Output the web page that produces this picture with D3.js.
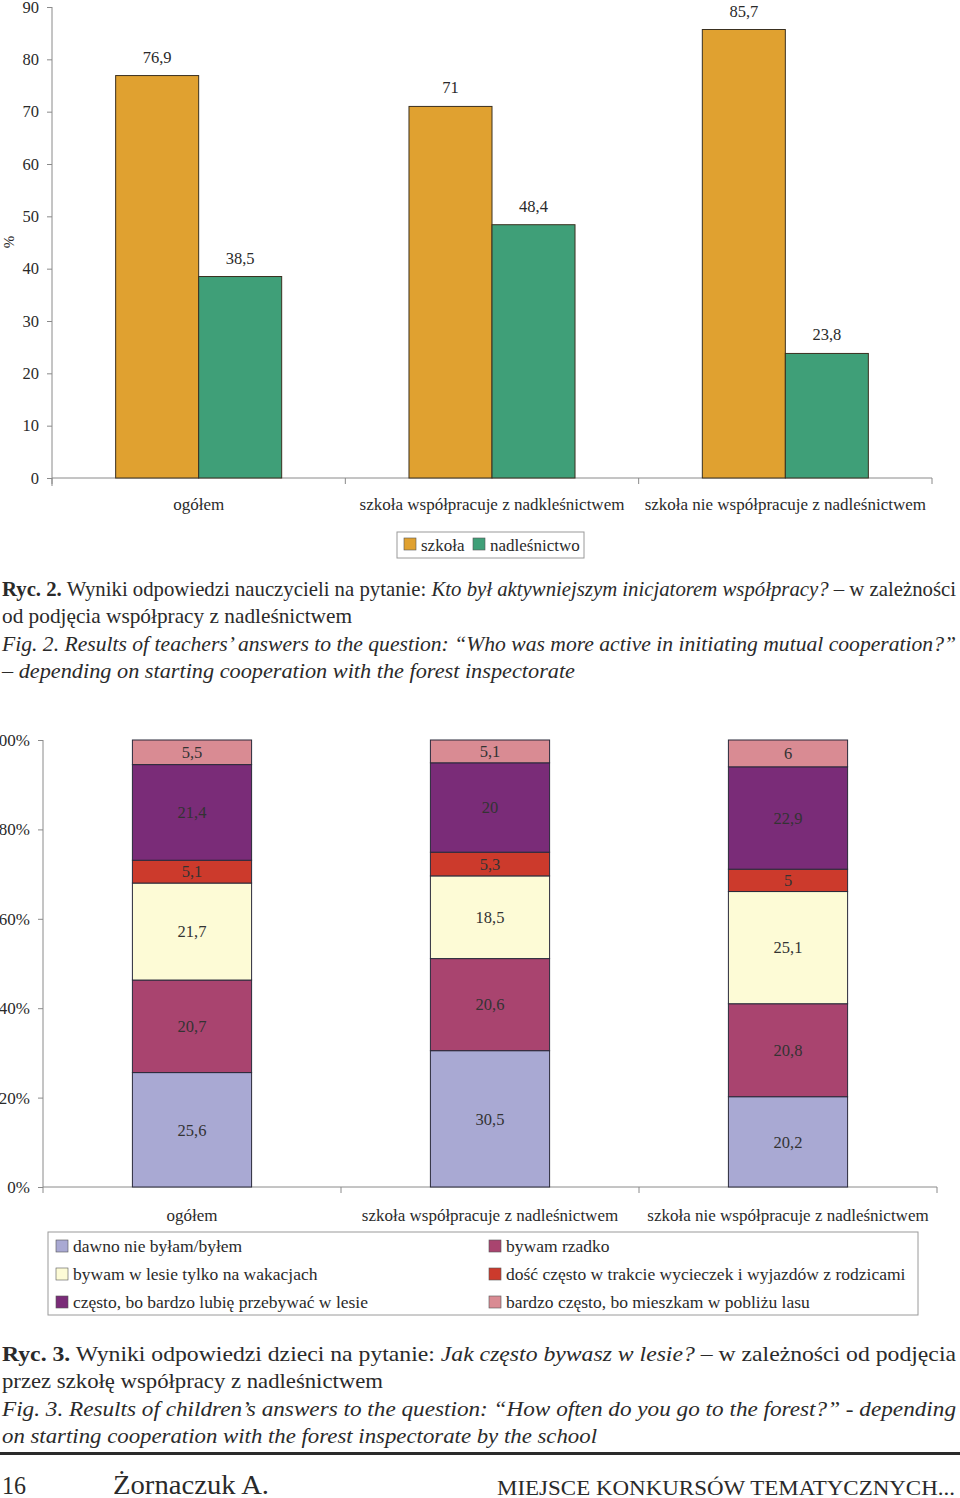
<!DOCTYPE html>
<html><head><meta charset="utf-8">
<script src="https://cdn.jsdelivr.net/npm/d3@7"></script>
<style>
body{margin:0;background:#fff;}
svg{display:block;font-family:"Liberation Serif","Times New Roman",serif;}
</style></head>
<body><svg id="c" width="960" height="1498"></svg>
<script>
// ---- Data: Fig. 2 ----
const cats1 = ["ogółem", "szkoła współpracuje z nadkleśnictwem", "szkoła nie współpracuje z nadleśnictwem"];
const series1 = ["szkoła", "nadleśnictwo"];
const szkola = [76.9, 71, 85.7];
const nadlesnictwo = [38.5, 48.4, 23.8];
const ticks1 = [0, 10, 20, 30, 40, 50, 60, 70, 80, 90];
const colors1 = ["#e0a130", "#3f9f78"];

// ---- Data: Fig. 3 ----
const cats2 = ["ogółem", "szkoła współpracuje z nadleśnictwem", "szkoła nie współpracuje z nadleśnictwem"];
const series2 = ["dawno nie byłam/byłem", "bywam rzadko", "bywam w lesie tylko na wakacjach",
  "dość często w trakcie wycieczek i wyjazdów z rodzicami", "często, bo bardzo lubię przebywać w lesie",
  "bardzo często, bo mieszkam w pobliżu lasu"];
const dawno = [25.6, 30.5, 20.2];
const rzadko = [20.7, 20.6, 20.8];
const wakacje = [21.7, 18.5, 25.1];
const dosc = [5.1, 5.3, 5];
const czesto = [21.4, 20, 22.9];
const bardzo = [5.5, 5.1, 6];
const ticks2 = [0, 20, 40, 60, 80, 100];
const colors2 = ["#a9a9d3", "#a9446f", "#fdfbd6", "#cc3a2c", "#7a2c78", "#d98b93"];
// legend order (two columns)
const legendOrder2 = [0, 2, 4, 1, 3, 5];

const svg = d3.select("#c");
const fmt = v => String(v).replace(".", ",");
const txtCol = "#2a2a2a";
const axCol = "#8a8a8a";

// ================= Chart 1 =================
{
  const y = d3.scaleLinear().domain([0, 90]).range([478, 7]);
  const x = d3.scaleBand().domain(cats1).range([52, 932]).paddingInner(0.434).paddingOuter(0.217);
  const x1 = d3.scaleBand().domain(series1).range([0, x.bandwidth()]);
  const g = svg.append("g");
  const yAx = g.append("g").attr("transform", "translate(52,0)")
    .call(d3.axisLeft(y).tickValues(ticks1).tickSize(5).tickPadding(8));
  yAx.select(".domain").attr("stroke", axCol).attr("d", "M0,7V486");
  yAx.selectAll(".tick line").attr("stroke", axCol);
  yAx.selectAll(".tick text").attr("fill", txtCol).style("font-size", "16.5px").style("font-family", "Liberation Serif");
  // x axis
  const step = x.step();
  g.append("line").attr("x1", 52).attr("x2", 932).attr("y1", y(0)).attr("y2", y(0)).attr("stroke", axCol);
  d3.range(4).forEach(i => {
    const bx = 52 + i * step;
    g.append("line").attr("x1", bx).attr("x2", bx).attr("y1", y(0)).attr("y2", y(0) + 6).attr("stroke", axCol);
  });
  g.selectAll(".cl").data(cats1).join("text")
    .attr("x", d => x(d) + x.bandwidth() / 2).attr("y", 510).attr("text-anchor", "middle")
    .attr("fill", txtCol).style("font-size", "17px").text(d => d);
  const data = cats1.map((c, i) => ({ c, vals: [szkola[i], nadlesnictwo[i]] }));
  const grp = g.selectAll(".grp").data(data).join("g").attr("transform", d => `translate(${x(d.c)},0)`);
  grp.selectAll("rect").data(d => d.vals.map((v, j) => ({ s: series1[j], v, j }))).join("rect")
    .attr("x", d => x1(d.s)).attr("width", x1.bandwidth())
    .attr("y", d => y(d.v)).attr("height", d => y(0) - y(d.v))
    .attr("fill", d => colors1[d.j]).attr("stroke", "#3a3020").attr("stroke-width", 1);
  grp.selectAll(".vl").data(d => d.vals.map((v, j) => ({ s: series1[j], v, j }))).join("text")
    .attr("x", d => x1(d.s) + x1.bandwidth() / 2).attr("y", d => y(d.v) - 13)
    .attr("text-anchor", "middle").attr("fill", txtCol).style("font-size", "16.5px").text(d => fmt(d.v));
  g.append("text").attr("transform", "translate(14,242) rotate(-90)").attr("text-anchor", "middle")
    .attr("fill", txtCol).style("font-size", "15px").text("%");
  // legend
  const lg = g.append("g");
  lg.append("rect").attr("x", 397).attr("y", 532).attr("width", 187).attr("height", 26)
    .attr("fill", "#fff").attr("stroke", "#9a9a9a");
  const lx = [404, 473];
  series1.forEach((s, i) => {
    lg.append("rect").attr("x", lx[i]).attr("y", 538).attr("width", 12).attr("height", 12)
      .attr("fill", colors1[i]).attr("stroke", "#555").attr("stroke-width", 0.6);
    lg.append("text").attr("x", lx[i] + 17).attr("y", 551).attr("fill", txtCol)
      .style("font-size", "17px").text(s);
  });
}

// ================= Captions =================
function cap(y, parts, width) {
  const t = svg.append("text").attr("x", 2).attr("y", y).attr("fill", "#2a2a2a")
    .style("font-size", "21px");
  if (width) t.attr("textLength", width).attr("lengthAdjust", "spacingAndGlyphs");
  parts.forEach(p => {
    const ts = t.append("tspan").text(p.t);
    if (p.b) ts.style("font-weight", "bold");
    if (p.i) ts.style("font-style", "italic");
  });
}
cap(596, [{ t: "Ryc. 2.", b: 1 }, { t: " Wyniki odpowiedzi nauczycieli na pytanie: " },
  { t: "Kto był aktywniejszym inicjatorem współpracy?", i: 1 }, { t: " – w zależności" }], 954);
cap(623, [{ t: "od podjęcia współpracy z nadleśnictwem" }], 350);
cap(651, [{ t: "Fig. 2. Results of teachers’ answers to the question: “Who was more active in initiating mutual cooperation?”", i: 1 }], 954);
cap(678, [{ t: "– depending on starting cooperation with the forest inspectorate", i: 1 }], 573);

// ================= Chart 2 =================
{
  const y = d3.scaleLinear().domain([0, 100]).range([1187, 740]);
  const x = d3.scaleBand().domain(cats2).range([43, 937]).paddingInner(0.6).paddingOuter(0.3);
  const g = svg.append("g");
  const yAx = g.append("g").attr("transform", "translate(43,0)")
    .call(d3.axisLeft(y).tickValues(ticks2).tickFormat(d => d + "%").tickSize(5).tickPadding(8));
  yAx.select(".domain").attr("stroke", axCol).attr("d", "M0,740V1187");
  yAx.selectAll(".tick line").attr("stroke", axCol);
  yAx.selectAll(".tick text").attr("fill", txtCol).style("font-size", "17px").style("font-family", "Liberation Serif");
  const step = x.step();
  g.append("line").attr("x1", 43).attr("x2", 937).attr("y1", y(0)).attr("y2", y(0)).attr("stroke", axCol);
  d3.range(4).forEach(i => {
    const bx = 43 + i * step;
    g.append("line").attr("x1", bx).attr("x2", bx).attr("y1", y(0)).attr("y2", y(0) + 6).attr("stroke", axCol);
  });
  g.selectAll(".cl").data(cats2).join("text")
    .attr("x", d => x(d) + x.bandwidth() / 2).attr("y", 1221).attr("text-anchor", "middle")
    .attr("fill", txtCol).style("font-size", "17px").text(d => d);
  const rows = cats2.map((c, i) => {
    const r = { cat: c };
    [dawno, rzadko, wakacje, dosc, czesto, bardzo].forEach((arr, j) => r[series2[j]] = arr[i]);
    return r;
  });
  const stack = d3.stack().keys(series2)(rows);
  const layers = g.selectAll(".layer").data(stack).join("g").attr("fill", (d, i) => colors2[i]);
  layers.selectAll("rect").data(d => d).join("rect")
    .attr("x", d => x(d.data.cat)).attr("width", x.bandwidth())
    .attr("y", d => y(d[1])).attr("height", d => y(d[0]) - y(d[1]))
    .attr("stroke", "#2a2a3a").attr("stroke-width", 1);
  layers.selectAll("text").data(d => d.map(p => ({ p, key: d.key }))).join("text")
    .attr("x", d => x(d.p.data.cat) + x.bandwidth() / 2)
    .attr("y", d => (y(d.p[0]) + y(d.p[1])) / 2).attr("dy", "0.35em")
    .attr("text-anchor", "middle").attr("fill", "#333").style("font-size", "16.5px")
    .text(d => fmt(d.p.data[d.key]));
  // legend
  const lg = g.append("g");
  lg.append("rect").attr("x", 48).attr("y", 1232).attr("width", 870).attr("height", 83)
    .attr("fill", "#fff").attr("stroke", "#9a9a9a");
  legendOrder2.forEach((si, k) => {
    const col = Math.floor(k / 3), row = k % 3;
    const lx = col === 0 ? 56 : 489;
    const ly = 1240 + row * 28;
    lg.append("rect").attr("x", lx).attr("y", ly).attr("width", 12).attr("height", 12)
      .attr("fill", colors2[si]).attr("stroke", "#555").attr("stroke-width", 0.6);
    lg.append("text").attr("x", lx + 17).attr("y", ly + 12).attr("fill", txtCol)
      .style("font-size", "17.5px").text(series2[si]);
  });
}

cap(1361, [{ t: "Ryc. 3.", b: 1 }, { t: " Wyniki odpowiedzi dzieci na pytanie: " },
  { t: "Jak często bywasz w lesie?", i: 1 }, { t: " – w zależności od podjęcia" }], 954);
cap(1388, [{ t: "przez szkołę współpracy z nadleśnictwem" }], 381);
cap(1416, [{ t: "Fig. 3. Results of children’s answers to the question: “How often do you go to the forest?” - depending", i: 1 }], 954);
cap(1443, [{ t: "on starting cooperation with the forest inspectorate by the school", i: 1 }], 595);

// footer
svg.append("rect").attr("x", 0).attr("y", 1452).attr("width", 960).attr("height", 3).attr("fill", "#2a2a2a");
svg.append("text").attr("x", 2).attr("y", 1494).attr("fill", "#2a2a2a").style("font-size", "25px")
  .attr("textLength", 24).attr("lengthAdjust", "spacingAndGlyphs").text("16");
svg.append("text").attr("x", 113).attr("y", 1494).attr("fill", "#2a2a2a").style("font-size", "28px")
  .attr("textLength", 156).attr("lengthAdjust", "spacingAndGlyphs").text("Żornaczuk A.");
svg.append("text").attr("x", 497).attr("y", 1495).attr("fill", "#2a2a2a").style("font-size", "22px")
  .attr("textLength", 458).attr("lengthAdjust", "spacingAndGlyphs").text("MIEJSCE KONKURSÓW TEMATYCZNYCH...");
</script></body></html>
